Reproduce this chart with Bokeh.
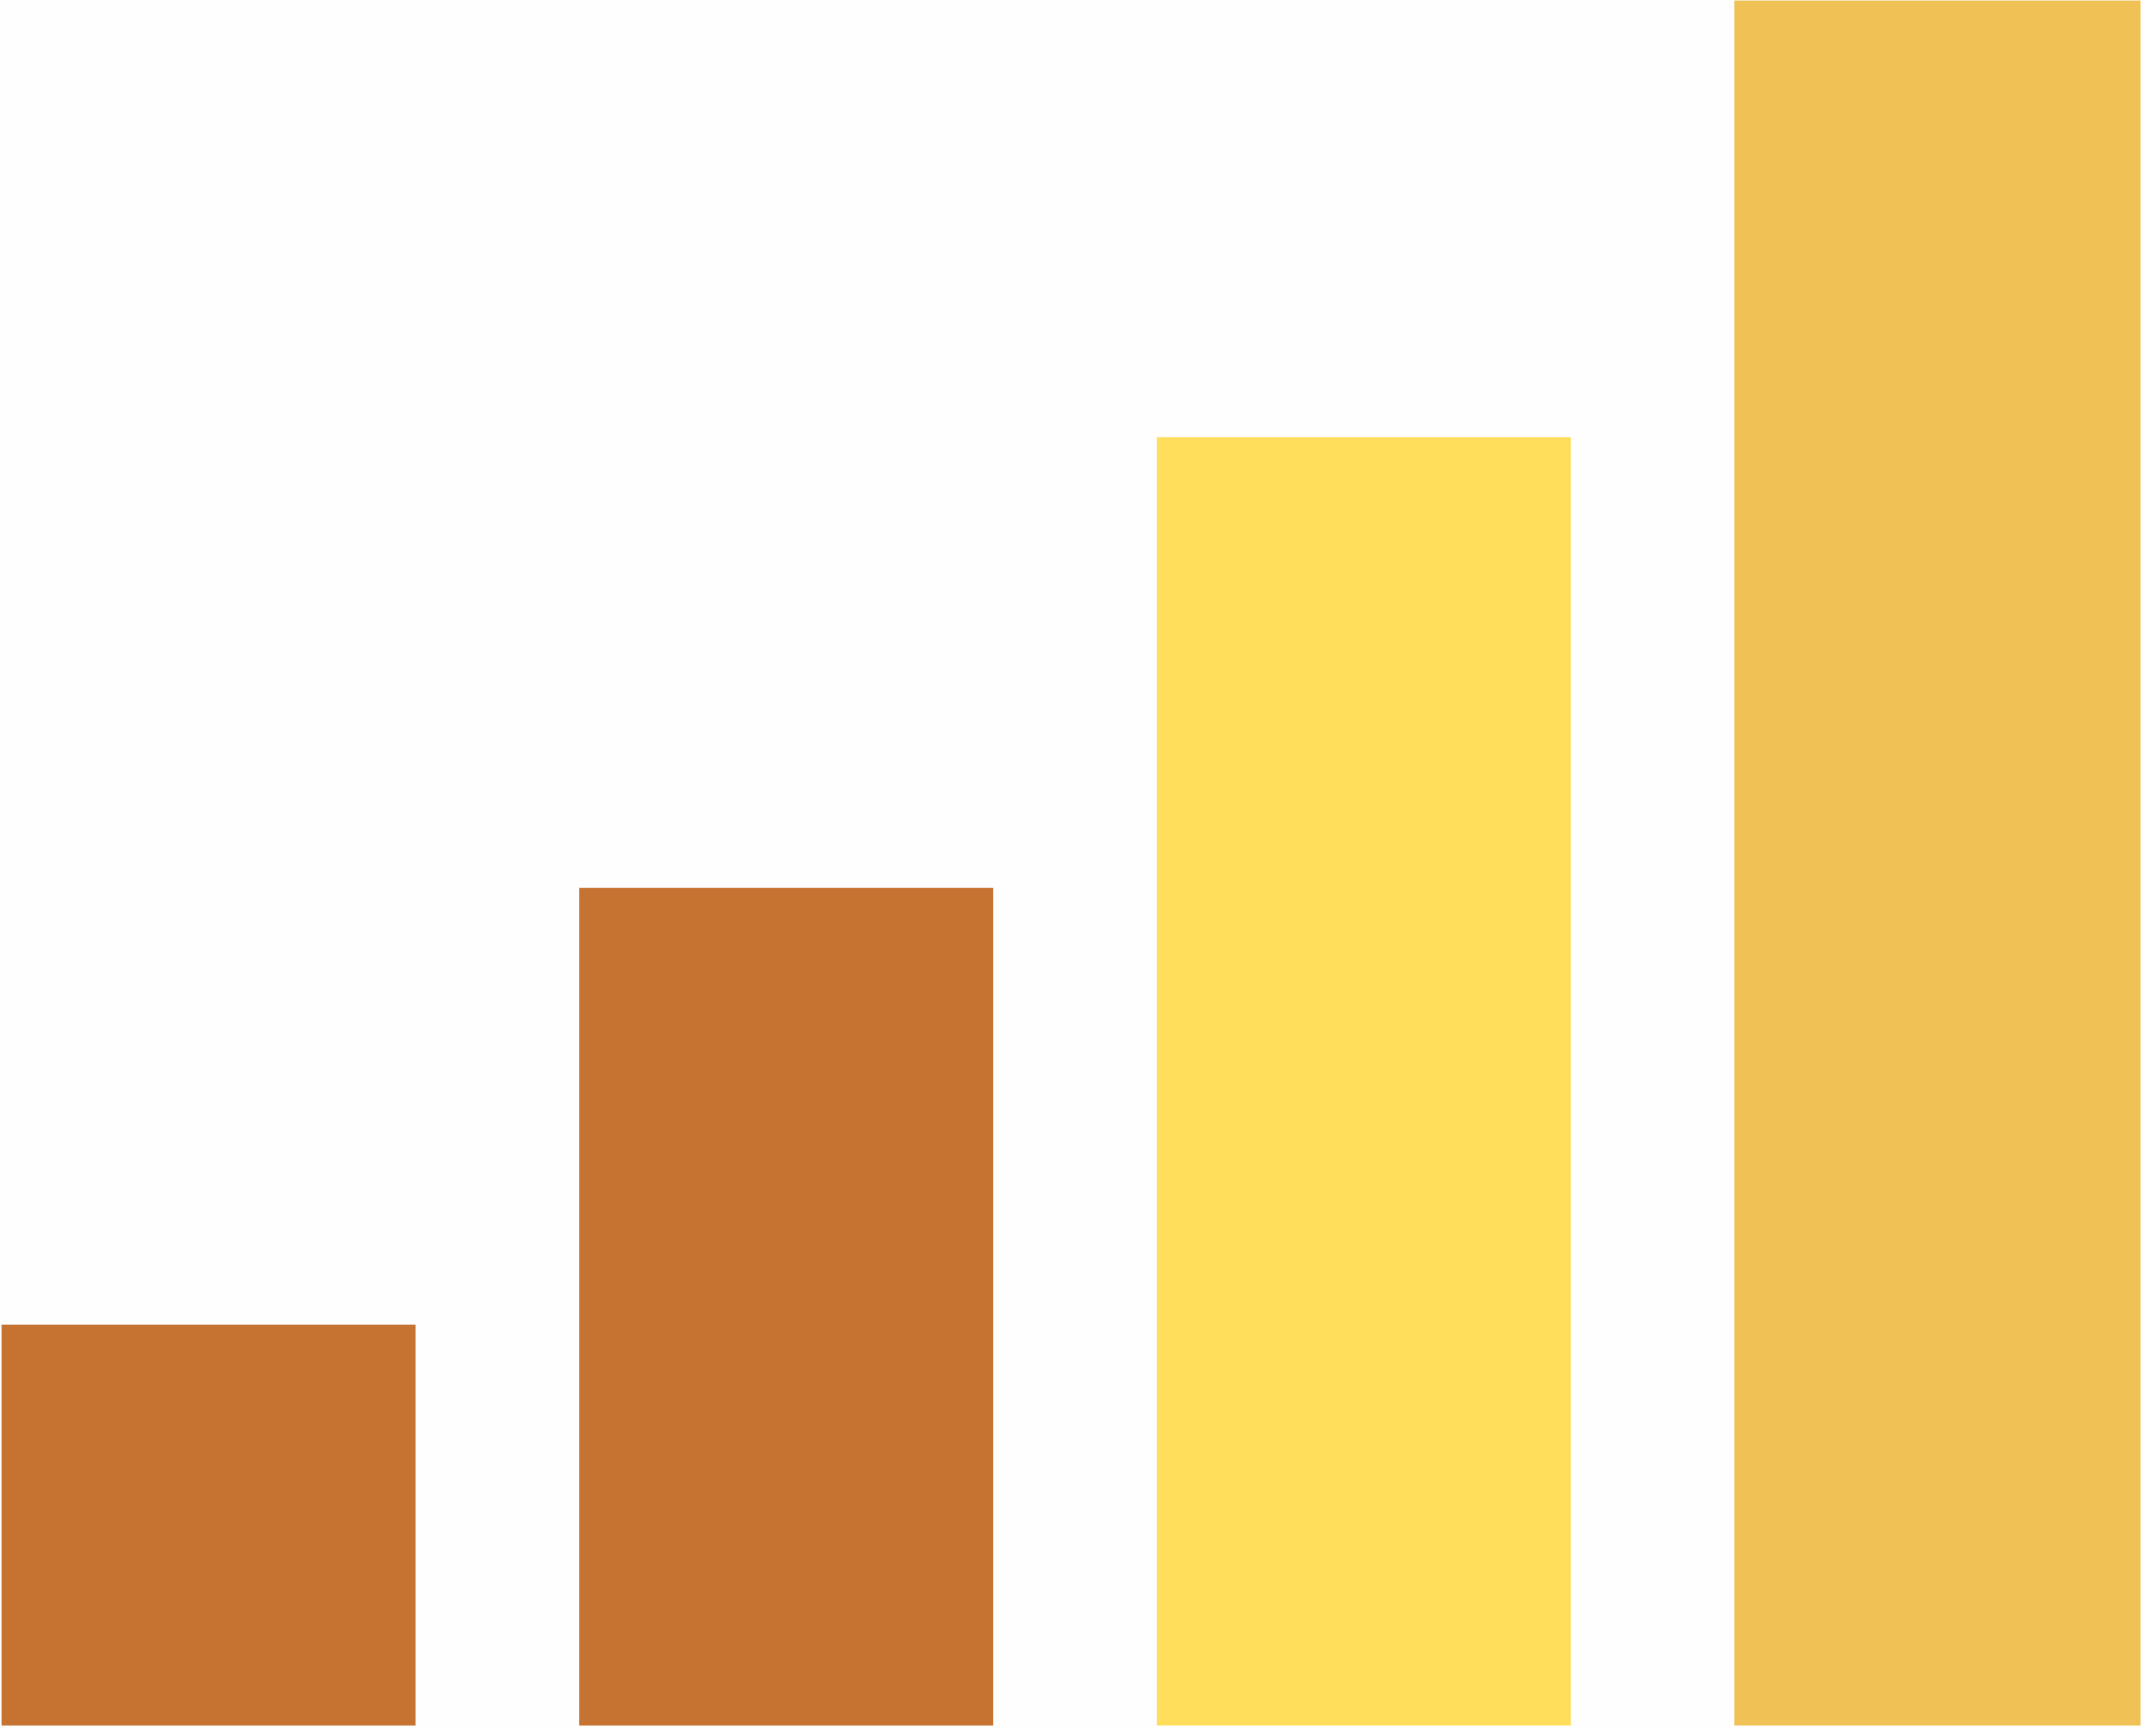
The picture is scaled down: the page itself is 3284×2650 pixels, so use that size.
from bokeh.plotting import figure
from bokeh.models import Range1d, ColumnDataSource
from bokeh.embed import file_html
from bokeh.resources import INLINE

categories = ["A", "B", "C", "D"]
values = [23.6, 48.8, 74.8, 100.0]
colors = ["#C67230", "#C67230", "#FFDE5C", "#F0C154"]

positions = [i + 1 for i in range(len(categories))]
source = ColumnDataSource(dict(x=positions, top=values, color=colors, cat=categories))

p = figure(width=3268, height=2634, output_backend="svg", toolbar_location=None,
           x_range=Range1d(0.6394, 4.3455), y_range=Range1d(0.4535, 100.0),
           min_border=0)
p.vbar(x="x", top="top", bottom=0, width=0.7167, color="color", line_color=None, source=source)

p.axis.visible = False
p.grid.visible = False
p.outline_line_color = None
p.background_fill_color = "#FEFEFE"
p.border_fill_color = "#FEFEFE"

open("out.html", "w").write(file_html(p, INLINE))
